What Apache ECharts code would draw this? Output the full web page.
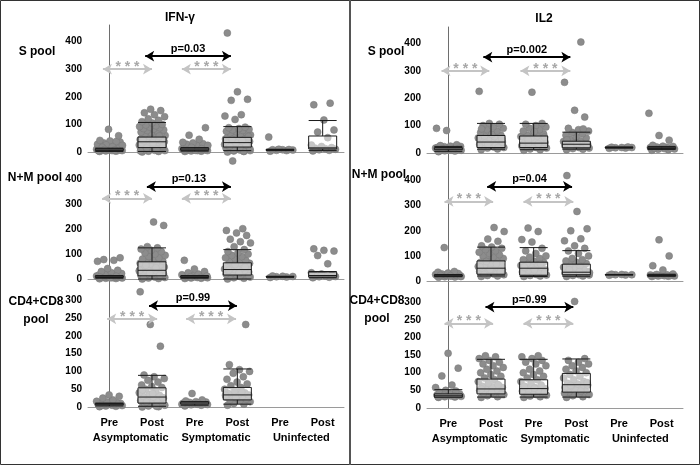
<!DOCTYPE html>
<html>
<head>
<meta charset="utf-8">
<script src="https://cdn.jsdelivr.net/npm/echarts@6/dist/echarts.min.js"></script>
<style>html,body{margin:0;padding:0;background:#fff}#c{width:700px;height:465px}</style>
</head>
<body>
<div id="c"></div>
<script>
// ---- categories / labels ----
const groups = ['Pre', 'Post', 'Pre', 'Post', 'Pre', 'Post'];
const groupNames = ['Asymptomatic', 'Symptomatic', 'Uninfected'];
const panelTitles = ['IFN-γ', 'IL2'];
const rowLabels = ['S pool', 'N+M pool', 'CD4+CD8\npool'];
const yMaxes = [460, 510, 360];
const yIntervals = [100, 100, 50];
const yTopTicks = [400, 400, 300];

// ---- IFN-γ values (per group: PreAsym, PostAsym, PreSym, PostSym, PreUninf, PostUninf) ----
const ifnS = [
  [2,3,4,5,5,6,6,7,7,8,8,8,9,9,10,10,10,11,11,12,12,13,14,15,16,18,20,22,25,28,30,33,36,40,42,38,26,24,19,17,59,82,5,7,9],
  [0,2,3,5,6,8,10,12,13,15,16,17,18,20,22,24,25,27,28,30,31,33,35,36,37,38,40,41,43,45,47,48,50,52,54,55,57,60,62,65,68,70,72,75,78,80,83,85,88,90,92,95,98,100,105,110,115,120,128,135,142,150,155,4,9,14,21,33,44,58],
  [2,3,4,5,5,6,7,7,8,8,9,9,10,10,11,11,12,12,13,14,15,16,18,20,22,25,28,30,33,35,46,61,88,6,9,12,17,24],
  [0,2,4,5,7,8,10,12,14,16,18,19,20,22,24,25,27,28,30,31,32,34,35,36,38,40,42,44,45,47,48,50,52,53,55,58,60,62,65,68,70,73,75,78,80,82,85,88,90,118,130,135,187,191,218,431,3,6,11,15,21,26,33,37,41,46,56],
  [3,5,6,7,8,8,9,10,54],
  [4,6,8,10,12,14,16,20,25,52,72,80,116,171,177]
];
const ifnNM = [
  [1,2,3,4,5,6,6,7,8,8,9,9,10,10,11,11,12,12,13,14,15,16,18,20,22,25,30,35,42,71,75,78,85,5,8,11],
  [0,2,4,6,8,10,12,14,16,18,20,22,24,26,28,30,32,34,36,38,40,42,44,46,48,50,53,56,60,63,66,69,72,75,80,85,90,95,100,105,110,115,120,125,130,215,229,5,15,25,35,45,55],
  [2,3,4,5,6,7,8,8,9,10,10,11,12,13,14,15,17,20,25,30,40,75,6,9,12],
  [0,3,5,8,10,13,16,18,20,22,25,28,30,33,35,38,40,42,45,48,50,53,56,60,63,65,70,75,80,85,90,95,100,105,110,118,130,145,150,160,175,185,195,202,474,12,24,36,47,58],
  [6,8,9,10,11,12],
  [5,7,9,10,12,14,16,20,25,61,94,112,115,121]
];
const ifnCD = [
  [1,2,3,4,5,5,6,7,8,8,9,10,10,11,12,14,16,20,25,30,34],
  [0,1,3,5,8,10,12,15,18,20,22,25,28,30,33,36,40,45,50,55,58,62,70,75,80,85,90,171,232,324,2,14,26,38,48],
  [3,5,6,7,8,9,10,10,11,12,13,14,15,17,20,38,8,11],
  [5,8,10,15,18,20,22,25,28,30,32,34,36,38,40,45,50,55,60,65,70,78,85,95,100,105,119,232,27,33,42],
  [],
  []
];
// box stats [min, Q1, median, Q3, max]
const ifnSBox = [[2,5,8,12,14],[2,16,37,54,107],[3,6,10,14,16],[5,18,34,53,92],[5,6,8,9,10],[5,11,15,58,114]];
const ifnNMBox = [[3,6,9,12,14],[0,13,35,69,125],[3,6,9,12,14],[0,16,38,65,118],[7,8,9,10,11],[5,8,14,28,30]];
const ifnCDBox = [[3,6,8,10,11],[2,11,28,54,89],[5,8,11,14,15],[8,20,34,55,107]];

// ---- IL2 values ----
const il2S = [
  [5,7,8,10,10,11,12,12,13,14,14,15,15,16,16,17,18,18,19,20,20,21,22,23,24,25,27,30,82,90,13,15,17],
  [12,15,18,20,22,25,28,30,32,35,38,40,42,45,48,50,55,60,62,65,70,75,80,85,90,95,100,105,108,225,27,37,52,68,88,20,33],
  [10,12,15,18,20,22,25,28,30,33,36,38,40,45,50,55,60,62,65,70,75,80,85,90,95,100,105,108,222,26,34,48,58,78],
  [12,14,16,18,20,22,24,25,27,28,30,32,33,35,38,40,42,45,50,55,60,65,70,75,80,85,90,131,156,258,405,22,29,36,48,88],
  [17,18,19,20,20,21,22],
  [10,12,14,15,16,17,18,19,20,21,22,24,25,28,47,64,145]
];
const il2NM = [
  [15,16,17,18,19,20,20,21,21,22,22,23,23,24,24,25,26,27,28,30,32,35,38,133,19,21,23],
  [18,20,22,25,28,30,33,35,38,40,43,45,48,50,52,55,58,60,63,66,70,75,80,85,90,95,100,105,110,115,120,125,130,135,140,158,167,197,213,26,36,46,56,68,78],
  [18,20,22,24,26,28,30,33,36,40,43,46,50,52,55,58,62,66,70,75,80,85,90,95,100,110,120,130,155,165,197,211,32,44,56,68],
  [18,20,22,24,25,27,28,30,32,34,36,38,40,43,46,50,55,60,65,70,75,80,85,90,100,110,120,130,140,160,168,200,208,277,420,26,29,33,37,45],
  [23,24,25,25,26,27],
  [18,19,20,20,21,22,22,23,24,25,26,28,44,61,100,164]
];
const il2CD = [
  [30,31,32,33,34,35,35,36,37,38,39,40,42,45,48,50,58,65,91,113,155,32,34,36],
  [30,32,35,38,40,42,45,48,50,52,55,58,60,62,65,70,75,80,85,90,95,100,105,110,115,120,125,130,135,140,145,148,38,44,54,66],
  [30,32,34,36,38,40,42,45,48,50,52,55,58,60,65,70,75,80,85,90,95,100,105,110,120,125,130,135,140,145,148,36,44,56,62],
  [30,32,35,38,40,45,50,55,58,60,62,65,68,70,75,80,85,90,95,100,105,110,115,120,125,130,135,140,302,42,48,64,72],
  [],
  []
];
const il2SBox = [[6,12,15,20,24],[14,20,40,64,108],[12,20,36,62,108],[14,19,32,43,76],[18,19,20,21,22],[13,16,18,21,24]];
const il2NMBox = [[17,19,21,24,26],[20,27,51,80,135],[18,23,51,75,133],[19,25,35,67,121],[24,25,25,26,26],[19,20,22,25,27]];
const il2CDBox = [[31,31,36,40,52],[31,40,54,82,138],[31,39,55,80,138],[31,45,66,98,139]];

// ---- comparisons: [fromGroup, toGroup, level, label] ----
const ifnSComp = [[-0.15,1.0,300,'* * *'],[1.7,2.85,300,'* * *'],[0.84,2.85,347,'p=0.03']];
const ifnNMComp = [[-0.17,1.0,324,'* * *'],[1.7,2.85,324,'* * *'],[0.88,2.85,371,'p=0.13']];
const ifnCDComp = [[-0.05,1.12,248,'* * *'],[1.8,2.97,248,'* * *'],[0.93,2.99,285,'p=0.99']];
const il2SComp = [[-0.16,0.96,300,'* * *'],[1.69,2.86,300,'* * *'],[0.82,2.86,350,'p=0.002']];
const il2NMComp = [[-0.09,1.05,317,'* * *'],[1.76,2.93,317,'* * *'],[0.91,2.9,377,'p=0.04']];
const il2CDComp = [[-0.09,1.05,240,'* * *'],[1.76,2.93,240,'* * *'],[0.87,2.93,286,'p=0.99']];

const panelData = [
  [ [ifnS, ifnSBox, ifnSComp], [ifnNM, ifnNMBox, ifnNMComp], [ifnCD, ifnCDBox, ifnCDComp] ],
  [ [il2S, il2SBox, il2SComp], [il2NM, il2NMBox, il2NMComp], [il2CD, il2CDBox, il2CDComp] ]
];

// ---- layout ----
const FONT = '"Liberation Sans", Arial, sans-serif';
const gridLefts = [88, 427];
const gridWidth = 256;
const gridTops = [[25, 152, 279], [27, 153, 281]];
const gridHeights = [[127, 127, 128], [126, 128, 127]];

function jitter(k) {
  return (((k * 0.618034 + 0.13) % 1) - 0.5) * 0.62;
}

const grids = [], xAxes = [], yAxes = [], series = [];
for (let p = 0; p < 2; p++) {
  for (let r = 0; r < 3; r++) {
    const g = p * 3 + r;
    grids.push({ left: gridLefts[p], width: gridWidth, top: gridTops[p][r], height: gridHeights[p][r] });
    const catIdx = xAxes.length;
    xAxes.push({
      gridIndex: g, type: 'category', data: groups, boundaryGap: true,
      axisLine: { show: true, onZero: true, lineStyle: { color: '#9a9a9a', width: 1 } },
      axisTick: { show: false },
      axisLabel: { show: r === 2, color: '#000', fontWeight: 'bold', fontSize: 11, fontFamily: FONT, margin: 10, interval: 0 }
    });
    const valIdx = xAxes.length;
    xAxes.push({ gridIndex: g, type: 'value', min: -0.5, max: 5.5, show: false });
    if (r === 2) {
      xAxes.push({
        gridIndex: g, type: 'category', data: groupNames, position: 'bottom', offset: 15,
        axisLine: { show: false, onZero: false }, axisTick: { show: false },
        axisLabel: { color: '#000', fontWeight: 'bold', fontSize: 11, fontFamily: FONT, margin: 10, interval: 0 }
      });
    }
    const topTick = yTopTicks[r];
    yAxes.push({
      gridIndex: g, type: 'value', min: 0, max: yMaxes[r], interval: yIntervals[r],
      axisLine: { show: true, lineStyle: { color: '#6e6e6e', width: 1 } },
      axisTick: { show: false }, splitLine: { show: false },
      axisLabel: { showMaxLabel: false, color: '#000', fontWeight: 'bold', fontSize: 10, fontFamily: FONT, margin: 6,
                   formatter: v => (v > topTick ? '' : String(v)) }
    });

    const [vals, boxes, comps] = panelData[p][r];
    const pts = [];
    vals.forEach((arr, gi) => arr.forEach((v, k) => pts.push([gi + jitter(k), v])));

    const mlData = comps.map(c => {
      const isP = c[3].indexOf('p=') === 0;
      const col = isP ? '#000' : '#c4c4c4';
      const lbl = {
        show: true, position: 'middle', formatter: c[3], color: isP ? '#000' : '#a8a8a8',
        fontSize: isP ? 11 : 14, fontWeight: 'bold', fontFamily: FONT, distance: isP ? 2 : -5
      };
      const ls = { color: col, width: 2, type: 'solid' };
      return [
        { coord: [c[0], c[2]], lineStyle: ls, label: lbl, symbol: 'arrow' },
        { coord: [c[1], c[2]], lineStyle: ls, label: lbl, symbol: 'arrow' }
      ];
    });

    series.push({
      type: 'scatter', xAxisIndex: valIdx, yAxisIndex: g, data: pts, z: 2,
      symbolSize: 7,
      itemStyle: { color: '#8c8c8c', borderColor: '#787878', borderWidth: 0.5, opacity: 1 },
      silent: true, animation: false,
      markLine: {
        silent: true, animation: false, symbol: ['arrow', 'arrow'], symbolSize: [8, 9],
        data: mlData
      }
    });
    series.push({
      type: 'boxplot', xAxisIndex: catIdx, yAxisIndex: g, data: boxes, z: 3,
      boxWidth: [28, 28],
      itemStyle: { color: 'rgba(255,255,255,0.5)', borderColor: '#1a1a1a', borderWidth: 1 },
      silent: true, animation: false
    });
  }
}

const graphics = [
  { type: 'rect', shape: { x: 0.5, y: 0.5, width: 699, height: 464 }, style: { fill: 'none', stroke: '#333', lineWidth: 1 }, z: 100 },
  { type: 'line', shape: { x1: 350, y1: 0, x2: 350, y2: 465 }, style: { stroke: '#555', lineWidth: 2 }, z: 100 }
];
function txt(x, y, text, size, lh) {
  graphics.push({ type: 'text', x: x, y: y, z: 100,
    style: { text: text, fill: '#000', font: 'bold ' + size + 'px ' + FONT, align: 'center', textAlign: 'center',
             verticalAlign: 'middle', textVerticalAlign: 'middle', lineHeight: lh || size + 4 } });
}
txt(180, 18, panelTitles[0], 12);
txt(544, 19, panelTitles[1], 12);
const rowLabelPos = [[[37, 52], [35, 178], [36, 311]], [[386, 52], [379, 175], [377, 310]]];
for (let p = 0; p < 2; p++) for (let r = 0; r < 3; r++) {
  txt(rowLabelPos[p][r][0], rowLabelPos[p][r][1], rowLabels[r], 12, 18);
}

const chart = echarts.init(document.getElementById('c'), null, { renderer: 'canvas' });
chart.setOption({
  animation: false,
  backgroundColor: '#fff',
  grid: grids, xAxis: xAxes, yAxis: yAxes, series: series, graphic: graphics
});
</script>
</body>
</html>
